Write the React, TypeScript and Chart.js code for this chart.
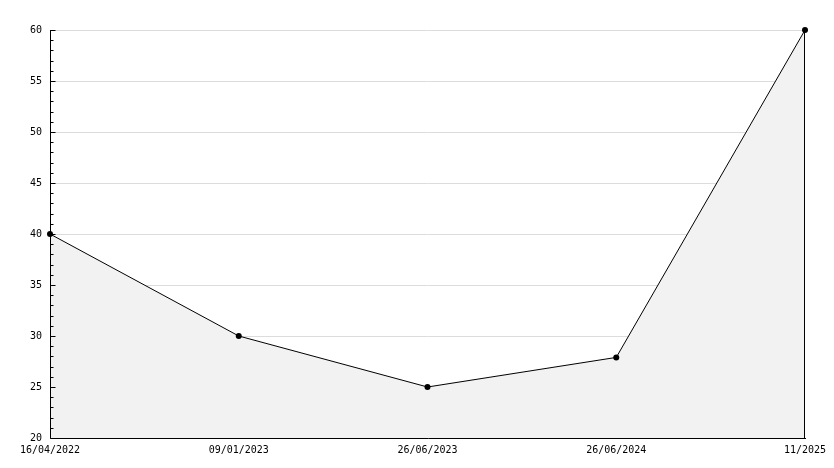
import React, { useEffect, useRef } from "react";
import { Chart, registerables } from "chart.js";

Chart.register(...registerables);

const categories = ["16/04/2022", "09/01/2023", "26/06/2023", "26/06/2024", "11/2025"];
const values = [40, 30, 25, 27.9, 60];
const yMin = 20;
const yMax = 60;
const yStep = 5;
const yMinorStep = 1;

const FONT = "'DejaVu Sans Mono', monospace";

const axisPlugin = {
  id: "axisPlugin",
  afterDatasetsDraw(chart: any) {
    const { ctx, chartArea, scales } = chart;
    const y = scales.y;
    const x = scales.x;
    ctx.save();
    ctx.strokeStyle = "#000";
    ctx.lineWidth = 1;
    ctx.beginPath();
    // left axis
    const lx = Math.round(chartArea.left) + 0.5;
    const by = Math.round(chartArea.bottom) + 0.5;
    ctx.moveTo(lx, Math.round(chartArea.top));
    ctx.lineTo(lx, by);
    // bottom axis
    ctx.moveTo(lx, by);
    ctx.lineTo(Math.round(chartArea.right) + 1, by);
    // ticks
    for (let v = yMin; v <= yMax; v += yMinorStep) {
      const py = Math.round(y.getPixelForValue(v)) + 0.5;
      const len = v % yStep === 0 ? 5 : 3;
      ctx.moveTo(lx, py);
      ctx.lineTo(lx + len, py);
    }
    // right edge of filled area
    const last = values.length - 1;
    const rx = Math.round(x.getPixelForValue(last)) - 0.5;
    ctx.moveTo(rx, y.getPixelForValue(values[last]));
    ctx.lineTo(rx, by);
    ctx.stroke();
    ctx.restore();
  },
};

export default function App() {
  const ref = useRef<HTMLCanvasElement>(null);
  useEffect(() => {
    document.body.style.margin = "0";
    const canvas = ref.current!;
    const chart = new Chart(canvas, {
      type: "line",
      data: {
        labels: categories,
        datasets: [
          {
            data: values,
            borderColor: "#000",
            borderWidth: 1,
            backgroundColor: "#f2f2f2",
            fill: "origin",
            tension: 0,
            pointRadius: 3,
            pointBackgroundColor: "#000",
            pointBorderColor: "#000",
            pointBorderWidth: 0,
            clip: false as any,
          },
        ],
      },
      options: {
        responsive: false,
        animation: false,
        devicePixelRatio: 1,
        layout: { padding: { left: 0, top: 30, right: 29, bottom: 0 } },
        plugins: {
          legend: { display: false },
          tooltip: { enabled: false },
        },
        scales: {
          x: {
            type: "category",
            offset: false,
            grid: { display: false, drawTicks: false },
            border: { display: false },
            ticks: {
              color: "#000",
              font: { family: FONT, size: 10 },
              padding: 6,
              maxRotation: 0,
              autoSkip: false,
            },
            afterFit: (s: any) => {
              s.height = 30;
            },
          },
          y: {
            min: yMin,
            max: yMax,
            grid: {
              drawTicks: false,
              color: (c: any) => (c.tick && c.tick.value === yMin ? "rgba(0,0,0,0)" : "#dcdcdc"),
              lineWidth: 1,
            },
            border: { display: false },
            ticks: {
              stepSize: yStep,
              color: "#000",
              font: { family: FONT, size: 10 },
              padding: 8,
            },
            afterFit: (s: any) => {
              s.width = 50;
            },
          },
        },
      },
      plugins: [axisPlugin],
    });
    return () => chart.destroy();
  }, []);
  return (
    <div style={{ width: 834, height: 468, background: "#fff" }}>
      <canvas ref={ref} width={834} height={468} style={{ display: "block" }} />
    </div>
  );
}
